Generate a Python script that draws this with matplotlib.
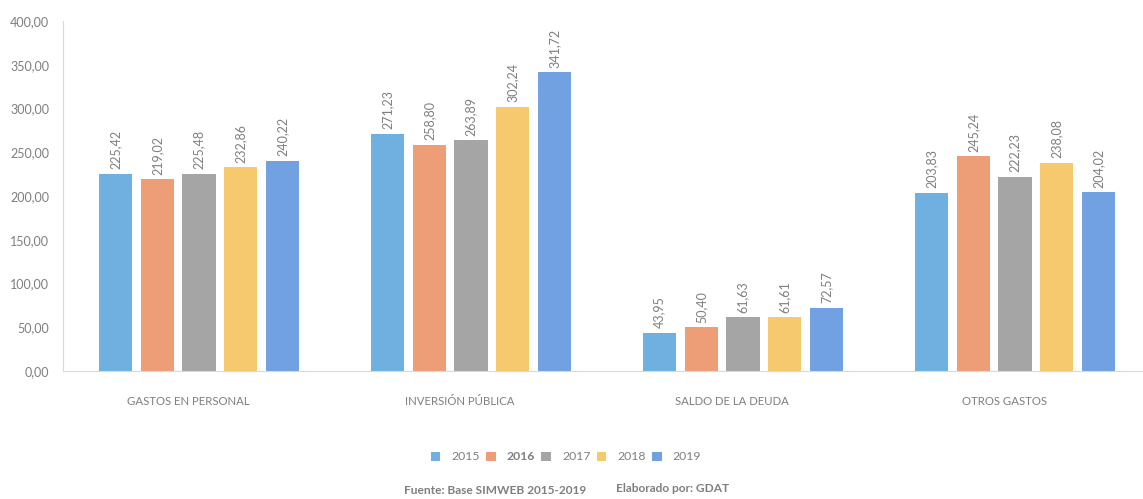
import matplotlib.pyplot as plt
import numpy as np

plt.rcParams['font.family'] = ['Lato', 'DejaVu Sans']

categories = ["GASTOS EN PERSONAL", "INVERSIÓN PÚBLICA", "SALDO DE LA DEUDA", "OTROS GASTOS"]
years = ["2015", "2016", "2017", "2018", "2019"]
values = {
    "2015": [225.42, 271.23, 43.95, 203.83],
    "2016": [219.02, 258.80, 50.40, 245.24],
    "2017": [225.48, 263.89, 61.63, 222.23],
    "2018": [232.86, 302.24, 61.61, 238.08],
    "2019": [240.22, 341.72, 72.57, 204.02],
}
colors = ["#6fb0e0", "#ee9e76", "#a5a5a5", "#f7c96f", "#72a1e2"]

grey = "#7f7f7f"
fig = plt.figure(figsize=(11.43, 4.99), dpi=100)
ax = fig.add_axes([63 / 1143, 1 - 371 / 499, 1088 / 1143, 350 / 499])

x = np.arange(len(categories))
width = 0.122
step = 0.154
for i, yr in enumerate(years):
    pos = x + (i - 2) * step
    bars = ax.bar(pos, values[yr], width, color=colors[i], label=yr)
    for b, v in zip(bars, values[yr]):
        ax.text(b.get_x() + b.get_width() / 2, v + 5, f"{v:.2f}".replace(".", ","),
                rotation=90, ha="center", va="bottom", fontsize=9, color=grey)

ax.set_xlim(-0.5, 3.5)
ax.set_ylim(0, 400)
ax.set_yticks(np.arange(0, 401, 50))
ax.set_yticklabels([f"{t:.2f}".replace(".", ",") for t in np.arange(0, 401, 50)])
ax.set_xticks(x - 0.04)
ax.set_xticklabels(categories)
ax.tick_params(axis="both", length=0, colors=grey, labelsize=9)
ax.tick_params(axis="x", pad=18, labelsize=8.2)
ax.tick_params(axis="y", pad=10)
for s in ["top", "right"]:
    ax.spines[s].set_visible(False)
for s in ["left", "bottom"]:
    ax.spines[s].set_color("#d9d9d9")

leg = fig.legend(loc="center", bbox_to_anchor=(566 / 1143, 1 - 457 / 499), ncol=5,
                 frameon=False, fontsize=8.8, handlelength=0.8, handleheight=0.8,
                 columnspacing=0.5, handletextpad=0.9)
for t in leg.get_texts():
    t.set_color(grey)
    if t.get_text() == "2016":
        t.set_fontweight("bold")

fig.text(495 / 1143, 1 - 491 / 499, "Fuente: Base SIMWEB 2015-2019", ha="center", va="center",
         fontsize=8.6, fontweight="bold", color=grey)
fig.text(673 / 1143, 1 - 489 / 499, "Elaborado por: GDAT", ha="center", va="center",
         fontsize=8.6, fontweight="bold", color=grey)

fig.savefig("out.png", dpi=100)
